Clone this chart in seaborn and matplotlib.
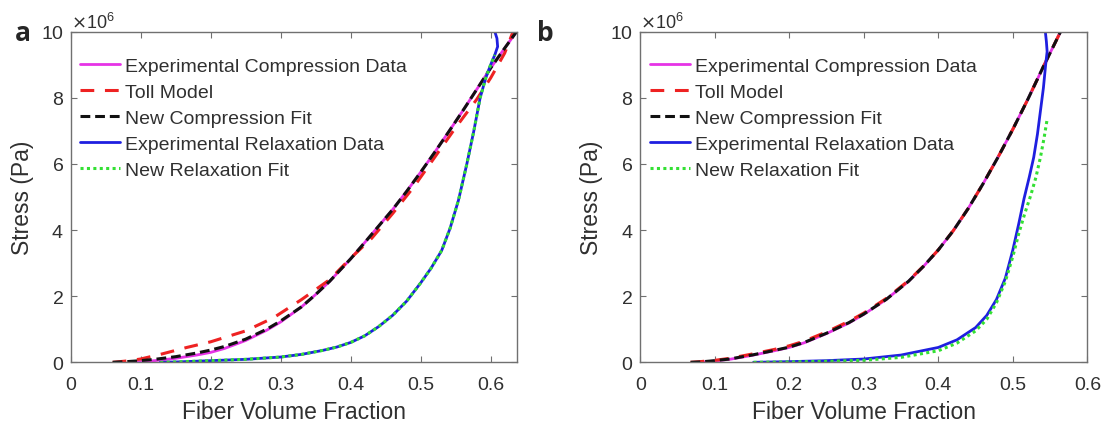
import matplotlib
matplotlib.use("Agg")
import matplotlib.pyplot as plt
from matplotlib.ticker import ScalarFormatter
import numpy as np
import seaborn as sns

# ---------------- data (fiber volume fraction, stress in MPa) ----------------
# Panel a
a_exp_comp_x = [0.085, 0.10, 0.12, 0.15, 0.18, 0.20, 0.22, 0.25, 0.28, 0.30, 0.33, 0.35, 0.37,
                0.40, 0.42, 0.44, 0.46, 0.48, 0.50, 0.52, 0.54, 0.56, 0.58, 0.60, 0.62, 0.637]
a_exp_comp_y = [0.0, 0.02, 0.05, 0.12, 0.22, 0.30, 0.42, 0.66, 0.97, 1.22, 1.68, 2.05, 2.45,
                3.13, 3.62, 4.12, 4.62, 5.17, 5.75, 6.35, 6.97, 7.6, 8.25, 8.9, 9.5, 10.0]

a_toll_x = [0.06, 0.08, 0.10, 0.13, 0.166, 0.20, 0.25, 0.29, 0.33, 0.37, 0.40, 0.43, 0.46,
            0.49, 0.52, 0.55, 0.58, 0.60, 0.62, 0.632]
a_toll_y = [0.0, 0.04, 0.10, 0.25, 0.45, 0.62, 0.95, 1.35, 1.9, 2.5, 3.15, 3.75, 4.5,
            5.3, 6.2, 7.1, 7.95, 8.6, 9.35, 10.0]

a_new_comp_x = [0.06, 0.08, 0.10, 0.12, 0.15, 0.18, 0.20, 0.22, 0.25, 0.28, 0.30, 0.33, 0.35,
                0.37, 0.40, 0.42, 0.44, 0.46, 0.48, 0.50, 0.52, 0.54, 0.56, 0.58, 0.60, 0.62, 0.637]
a_new_comp_y = [0.0, 0.02, 0.05, 0.09, 0.17, 0.28, 0.37, 0.48, 0.70, 1.0, 1.25, 1.68, 2.05,
                2.45, 3.13, 3.62, 4.12, 4.62, 5.17, 5.75, 6.35, 6.97, 7.6, 8.25, 8.9, 9.5, 10.0]

a_exp_relax_x = [0.128, 0.15, 0.20, 0.25, 0.30, 0.33, 0.36, 0.38, 0.40, 0.42, 0.44, 0.46,
                 0.48, 0.50, 0.515, 0.53, 0.542, 0.554, 0.566, 0.576, 0.585, 0.593, 0.600,
                 0.606, 0.610, 0.609, 0.606]
a_exp_relax_y = [0.0, 0.01, 0.05, 0.09, 0.16, 0.24, 0.36, 0.46, 0.60, 0.80, 1.08, 1.42,
                 1.85, 2.40, 2.85, 3.38, 4.05, 4.9, 6.0, 7.0, 8.0, 8.6, 9.0,
                 9.3, 9.55, 9.8, 10.0]

a_new_relax_x = [0.128, 0.15, 0.20, 0.25, 0.30, 0.33, 0.36, 0.38, 0.40, 0.42, 0.44, 0.46,
                 0.48, 0.50, 0.515, 0.53, 0.542, 0.554, 0.566, 0.576, 0.585, 0.593, 0.600,
                 0.606]
a_new_relax_y = [0.0, 0.01, 0.05, 0.09, 0.16, 0.24, 0.36, 0.46, 0.60, 0.80, 1.08, 1.42,
                 1.85, 2.40, 2.85, 3.38, 4.05, 4.9, 6.0, 7.0, 8.0, 8.6, 9.0,
                 9.3]

# Panel b
b_exp_comp_x = [0.08, 0.10, 0.12, 0.15, 0.18, 0.20, 0.22, 0.25, 0.28, 0.30, 0.33, 0.36, 0.38,
                0.40, 0.42, 0.44, 0.46, 0.48, 0.50, 0.52, 0.54, 0.564]
b_exp_comp_y = [0.0, 0.04, 0.09, 0.21, 0.35, 0.45, 0.59, 0.87, 1.19, 1.45, 1.9, 2.45, 2.9,
                3.4, 3.98, 4.65, 5.4, 6.2, 7.05, 7.95, 8.9, 10.0]

b_toll_x = [0.0675, 0.08, 0.10, 0.12, 0.15, 0.18, 0.20, 0.22, 0.25, 0.28, 0.30, 0.33, 0.36,
            0.38, 0.40, 0.42, 0.44, 0.46, 0.48, 0.50, 0.52, 0.54, 0.564]
b_toll_y = [0.0, 0.02, 0.06, 0.12, 0.25, 0.39, 0.50, 0.64, 0.92, 1.24, 1.49, 1.93, 2.47,
            2.91, 3.4, 3.98, 4.65, 5.4, 6.2, 7.05, 7.95, 8.9, 10.0]

b_new_comp_x = [0.0675, 0.08, 0.10, 0.12, 0.15, 0.18, 0.20, 0.22, 0.25, 0.28, 0.30, 0.33, 0.36,
                0.38, 0.40, 0.42, 0.44, 0.46, 0.48, 0.50, 0.52, 0.54, 0.564]
b_new_comp_y = [0.0, 0.01, 0.05, 0.10, 0.22, 0.36, 0.46, 0.60, 0.88, 1.2, 1.46, 1.9, 2.45,
                2.9, 3.4, 3.98, 4.65, 5.4, 6.2, 7.05, 7.95, 8.9, 10.0]

b_exp_relax_x = [0.152, 0.20, 0.25, 0.30, 0.35, 0.40, 0.425, 0.45, 0.465, 0.478, 0.49, 0.50,
                 0.508, 0.515, 0.522, 0.528, 0.533, 0.537, 0.541, 0.544, 0.546, 0.545, 0.5436]
b_exp_relax_y = [0.0, 0.02, 0.05, 0.10, 0.22, 0.45, 0.68, 1.05, 1.42, 1.9, 2.55, 3.4,
                 4.2, 4.95, 5.6, 6.2, 6.9, 7.6, 8.3, 9.0, 9.4, 9.7, 10.0]

b_new_relax_x = [0.152, 0.20, 0.25, 0.30, 0.35, 0.40, 0.425, 0.45, 0.465, 0.478, 0.49, 0.50,
                 0.508, 0.516, 0.524, 0.531, 0.537, 0.542, 0.546]
b_new_relax_y = [0.0, 0.01, 0.03, 0.06, 0.15, 0.35, 0.58, 0.95, 1.3, 1.8, 2.45, 3.2,
                 3.9, 4.5, 5.05, 5.6, 6.2, 6.8, 7.35]

series_labels = ["Experimental Compression Data", "Toll Model", "New Compression Fit",
                 "Experimental Relaxation Data", "New Relaxation Fit"]
x_limits = [0.638, 0.6]
panel_letters = ["a", "b"]

# ---------------- style ----------------
sns.set_style("ticks")
plt.rcParams["font.family"] = ["Liberation Sans", "DejaVu Sans"]
TEXT = "#303030"
SPINE = "#707070"

colors = ["#e633e6", "#ee2222", "#111111", "#1f1fe0", "#33e033"]
styles = ["-", (0, (4.5, 3.5)), (0, (3.2, 1.6)), "-", (0, (1.0, 1.1))]
widths = [2.0, 2.2, 2.2, 2.0, 2.2]

panels = [
    [(a_exp_comp_x, a_exp_comp_y), (a_toll_x, a_toll_y), (a_new_comp_x, a_new_comp_y),
     (a_exp_relax_x, a_exp_relax_y), (a_new_relax_x, a_new_relax_y)],
    [(b_exp_comp_x, b_exp_comp_y), (b_toll_x, b_toll_y), (b_new_comp_x, b_new_comp_y),
     (b_exp_relax_x, b_exp_relax_y), (b_new_relax_x, b_new_relax_y)],
]

fig = plt.figure(figsize=(11.09, 4.35), dpi=100)
axes = [fig.add_axes([0.0637, 0.1648, 0.4027, 0.760]),
        fig.add_axes([0.5773, 0.1648, 0.4032, 0.760])]

for ax, curves, xmax, letter in zip(axes, panels, x_limits, panel_letters):
    for (xs, ys), lab, c, ls, lw in zip(curves, series_labels, colors, styles, widths):
        sns.lineplot(x=np.asarray(xs), y=np.asarray(ys) * 1e6, ax=ax, sort=False,
                     estimator=None, color=c, linestyle=ls, linewidth=lw, label=lab)

    ax.set_xlim(0, xmax)
    ax.set_ylim(0, 1e7)
    ax.set_xticks([0, 0.1, 0.2, 0.3, 0.4, 0.5, 0.6])
    ax.set_xticklabels(["0", "0.1", "0.2", "0.3", "0.4", "0.5", "0.6"])
    ax.set_yticks([0, 2e6, 4e6, 6e6, 8e6, 1e7])
    fmt = ScalarFormatter(useMathText=True)
    fmt.set_powerlimits((6, 6))
    ax.yaxis.set_major_formatter(fmt)
    ax.yaxis.get_offset_text().set_fontsize(13)
    ax.yaxis.get_offset_text().set_color(TEXT)

    ax.tick_params(direction="in", top=True, right=True, length=4, width=0.8,
                   color=SPINE, labelsize=14, labelcolor=TEXT)
    ax.tick_params(axis="x", pad=10)
    ax.tick_params(axis="y", pad=5)
    for sp in ax.spines.values():
        sp.set_visible(True)
        sp.set_color(SPINE)
        sp.set_linewidth(1.0)

    ax.set_xlabel("Fiber Volume Fraction", fontsize=16.5, color=TEXT, labelpad=5)
    ax.set_ylabel("Stress (Pa)", fontsize=16.5, color=TEXT, labelpad=5)

    leg = ax.legend(loc="upper left", bbox_to_anchor=(0.0, 0.952), frameon=False,
                    fontsize=14, handlelength=2.05, handletextpad=0.25,
                    labelspacing=0.43, borderaxespad=0.3, borderpad=0.2)
    for t in leg.get_texts():
        t.set_color(TEXT)

fig.text(0.0207, 0.924, "a", fontsize=19, fontweight="bold", ha="center", va="center",
         family=["Open Sans", "DejaVu Sans"])
fig.text(0.4915, 0.924, "b", fontsize=19, fontweight="bold", ha="center", va="center",
         family=["Open Sans", "DejaVu Sans"])

fig.savefig("out.png", dpi=100)
